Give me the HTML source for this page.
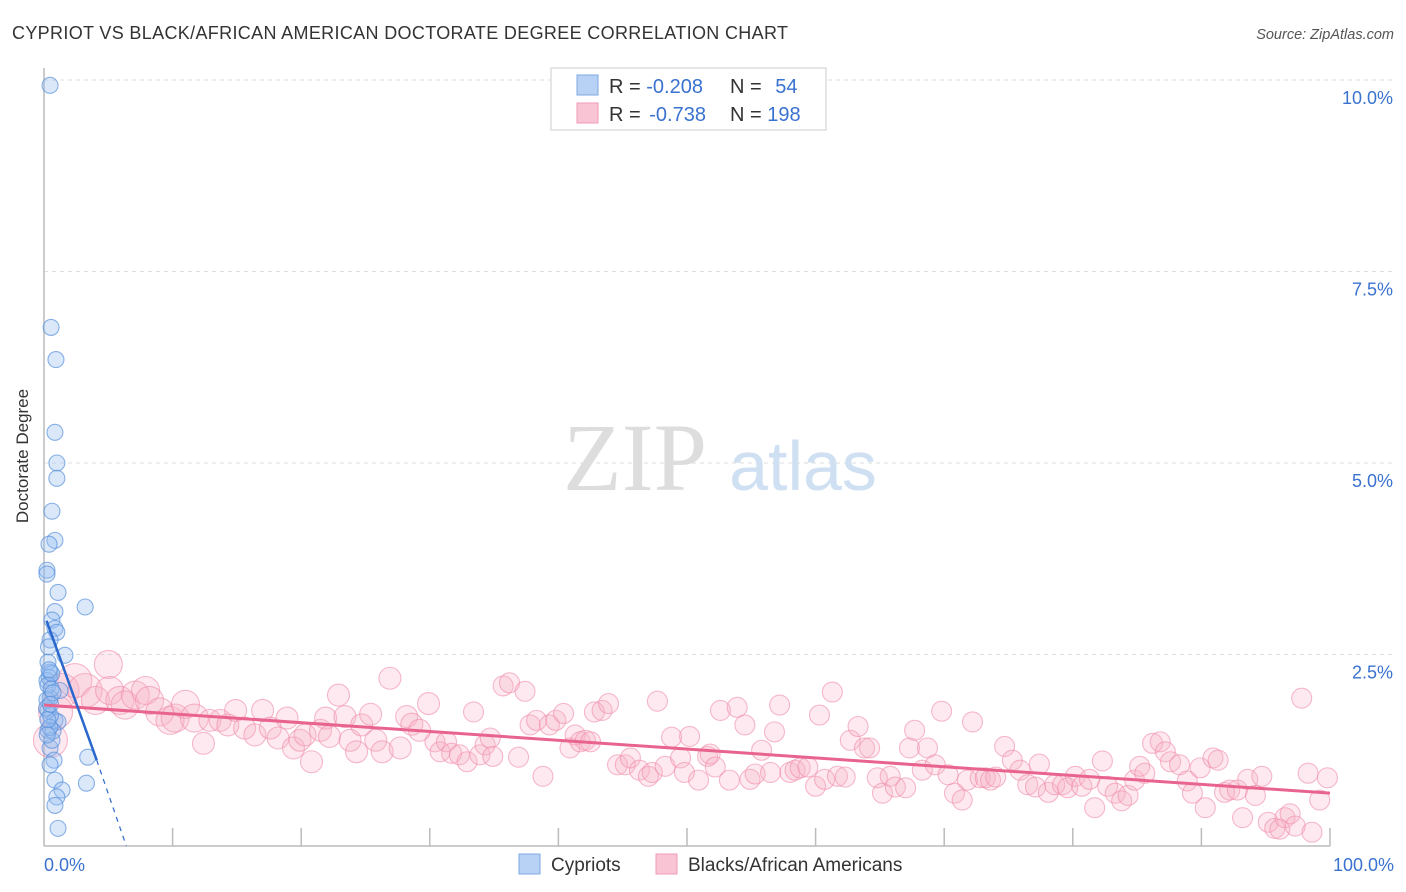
<!DOCTYPE html>
<html><head><meta charset="utf-8"><style>
body{margin:0;background:#fff;font-family:"Liberation Sans",sans-serif;}
svg{display:block}
</style></head><body>
<svg id="chart" width="1406" height="892" viewBox="0 0 1406 892" xmlns="http://www.w3.org/2000/svg">
<text x="12" y="39" font-size="18" fill="#333" textLength="776" lengthAdjust="spacing">CYPRIOT VS BLACK/AFRICAN AMERICAN DOCTORATE DEGREE CORRELATION CHART</text>
<text x="1394" y="39" font-size="14.5" fill="#555" font-style="italic" text-anchor="end">Source: ZipAtlas.com</text>
<g id="grid"></g>
<text x="635" y="490" font-size="96" fill="#ddd" font-family="Liberation Serif,serif" text-anchor="middle">ZIP</text>
<text x="803" y="490" font-size="70" fill="#cfe0f3" text-anchor="middle">atlas</text>
<g id="axes"></g>
<g id="pink"></g>
<g id="blue"></g>
<g id="lines"></g>
<text x="28" y="456" font-size="17" fill="#333" text-anchor="middle" transform="rotate(-90 28 456)">Doctorate Degree</text>
<g>
<rect x="551" y="68" width="275" height="62" fill="#fff" stroke="#ddd" stroke-width="1.5"/>
<rect x="577" y="75" width="21" height="20" fill="#b7d2f5" stroke="#7ea8e0"/>
<rect x="577" y="103" width="21" height="20" fill="#f9c5d4" stroke="#f09ab4"/>
<text x="609" y="93" font-size="20" fill="#333">R = <tspan fill="#3a72d0">-0.208</tspan></text>
<text x="730" y="93" font-size="20" fill="#333">N = <tspan fill="#3a72d0" dx="8">54</tspan></text>
<text x="609" y="121" font-size="20" fill="#333">R = <tspan fill="#3a72d0" dx="3">-0.738</tspan></text>
<text x="730" y="121" font-size="20" fill="#333">N = <tspan fill="#3a72d0">198</tspan></text>
</g>
<g>
<rect x="519" y="854" width="21" height="20" fill="#b7d2f5" stroke="#7ea8e0"/>
<text x="551" y="871" font-size="19" fill="#333">Cypriots</text>
<rect x="656" y="854" width="21" height="20" fill="#f9c5d4" stroke="#f09ab4"/>
<text x="688" y="871" font-size="19" fill="#333">Blacks/African Americans</text>
</g>
</svg>
<script>
const yTicks=[2.5,5.0,7.5,10.0];
const yTickLabels=["2.5%","5.0%","7.5%","10.0%"];
const xTickLabels=["0.0%","100.0%"];
const blueX=[0.47,0.55,0.93,0.85,1.0,1.0,0.62,0.85,0.39,0.23,0.23,1.09,3.2,0.85,0.62,0.85,1.0,0.47,1.63,0.31,0.47,0.23,1.24,0.47,0.31,0.85,0.31,1.09,0.47,0.78,3.4,3.3,0.85,1.4,1.0,0.85,1.09,0.47,0.62,0.23,0.4,0.3,0.5,0.7,0.2,0.35,0.6,0.45,0.25,0.55,0.3,0.7,0.4,0.5];
const blueY=[9.93,6.77,6.35,5.4,5.0,4.8,4.37,3.99,3.94,3.6,3.55,3.31,3.12,3.06,2.95,2.84,2.79,2.69,2.49,2.4,2.27,2.16,2.03,1.93,1.77,1.64,1.51,1.62,1.28,1.12,1.16,0.82,0.86,0.73,0.64,0.53,0.23,1.06,1.38,1.91,2.2,2.1,1.7,1.5,1.8,2.6,2.25,1.55,1.45,2.05,1.65,2.0,2.3,1.85];
const pinkX=[0.5,0.9,1.4,2.4,3.2,4.0,5.0,5.1,5.9,6.3,7.1,7.9,8.2,9.0,9.8,10.2,11.0,11.7,12.4,12.9,13.7,14.3,14.9,15.6,16.4,17.0,17.6,18.2,18.9,19.4,19.9,20.3,20.8,21.5,21.9,22.2,22.9,23.4,23.8,24.3,24.7,25.4,25.8,26.3,26.9,27.7,28.2,28.6,29.2,29.9,30.4,30.8,31.3,31.7,32.3,32.9,33.4,33.9,34.3,34.7,34.9,35.7,36.2,36.9,37.4,37.8,38.3,38.8,39.3,39.8,40.4,40.9,41.3,41.7,42.1,42.5,42.8,43.4,43.9,44.6,45.2,45.6,46.3,47.0,47.3,47.7,48.3,48.8,49.5,49.8,50.2,50.9,51.6,51.8,52.2,52.6,53.3,53.9,54.5,54.9,55.3,55.8,56.5,56.8,57.2,58.0,58.4,58.8,59.4,60.0,60.3,60.7,61.3,61.7,62.3,62.7,63.3,63.8,64.2,64.8,65.2,65.8,66.2,67.0,67.3,67.7,68.3,68.7,69.3,69.8,70.3,70.8,71.4,71.8,72.2,72.8,73.2,73.6,74.0,74.7,75.3,75.9,76.5,77.1,77.4,78.1,78.6,79.2,79.6,80.2,80.7,81.3,81.7,82.3,82.7,83.3,83.8,84.3,84.8,85.2,85.6,86.2,86.8,87.2,87.6,88.3,88.9,89.3,89.9,90.3,90.9,91.3,91.8,92.2,92.8,93.2,93.6,94.2,94.7,95.2,95.7,96.1,96.5,96.9,97.3,97.8,98.3,98.6,99.2,99.8];
const pinkY=[1.38,1.75,2.03,2.16,2.03,1.90,2.37,2.03,1.90,1.84,1.97,2.03,1.90,1.75,1.64,1.67,1.85,1.67,1.34,1.64,1.64,1.58,1.77,1.54,1.45,1.77,1.54,1.41,1.67,1.28,1.38,1.45,1.10,1.51,1.67,1.43,1.97,1.69,1.38,1.23,1.58,1.72,1.38,1.23,2.19,1.28,1.69,1.59,1.51,1.86,1.36,1.23,1.36,1.21,1.19,1.10,1.75,1.19,1.32,1.41,1.17,2.09,2.13,1.16,2.02,1.58,1.64,0.91,1.58,1.64,1.73,1.28,1.45,1.36,1.38,1.36,1.75,1.77,1.86,1.06,1.06,1.15,0.99,0.91,0.96,1.89,1.04,1.42,1.15,0.96,1.43,0.86,1.17,1.20,1.03,1.77,0.86,1.81,1.58,0.87,0.94,1.25,0.96,1.49,1.84,0.96,0.99,1.02,1.03,0.78,1.71,0.87,2.01,0.91,0.90,1.38,1.56,1.28,1.28,0.89,0.69,0.91,0.77,0.76,1.28,1.51,0.99,1.28,1.06,1.76,0.93,0.69,0.60,0.86,1.62,0.89,0.89,0.86,0.90,1.30,1.12,0.99,0.80,0.77,1.07,0.70,0.80,0.80,0.76,0.91,0.78,0.87,0.50,1.11,0.78,0.69,0.59,0.66,0.86,1.04,0.95,1.34,1.36,1.23,1.10,1.06,0.85,0.69,1.02,0.50,1.15,1.12,0.70,0.73,0.73,0.37,0.87,0.66,0.91,0.31,0.23,0.22,0.37,0.42,0.26,1.93,0.95,0.18,0.60,0.89];
const pinkTrend=[[0,1.84],[100,0.69]];
const blueTrend=[[0.2,2.94],[4.1,1.12]];
const blueDash=[[4.1,1.12],[6.4,0]];

const L=44,R=1330,T=80,B=846;
const sx=v=>L+(R-L)*v/100, sy=v=>B-(B-T)*v/10;
const NS="http://www.w3.org/2000/svg";
function mk(tag,attrs,parent){const e=document.createElementNS(NS,tag);for(const k in attrs)e.setAttribute(k,attrs[k]);parent.appendChild(e);return e;}
const grid=document.getElementById('grid'),axes=document.getElementById('axes');
yTicks.forEach((t,i)=>{
 const g=mk('line',{x1:L,x2:1394,y1:sy(t),y2:sy(t),stroke:'#ddd','stroke-dasharray':'4,4'},grid);
 
 
 const tx=mk('text',{x:1393,y:sy(t)+24,'font-size':18,fill:'#3a72d0','text-anchor':'end'},axes);
 tx.textContent=yTickLabels[i];
 
 
});
const ax=mk('line',{x1:L,x2:L,y1:68,y2:B,stroke:'#bbb','stroke-width':1.5},axes);


const bx=mk('line',{x1:L,x2:R,y1:B,y2:B,stroke:'#bbb','stroke-width':1.5},axes);


for(let i=1;i<=10;i++){
 const tk=mk('line',{x1:sx(i*10),x2:sx(i*10),y1:B,y2:828,stroke:'#bbb','stroke-width':1.5},axes);
 
 
}
[[0,'start',44],[100,'end',1394]].forEach((p,i)=>{
 const t=mk('text',{x:p[2],y:871,'font-size':18,fill:'#3a72d0','text-anchor':p[1]},axes);
 t.textContent=xTickLabels[i];
 
 
});
const pg=document.getElementById('pink');
pinkX.forEach((x,i)=>{
 const r=x<4?17:(x<12?14:(x<30?11:10));
 const c=mk('circle',{cx:sx(x),cy:sy(pinkY[i]),r:r,fill:'rgba(248,175,198,0.28)',stroke:'rgba(240,140,170,0.6)','stroke-width':1.1},pg);
 
 
});
const bg=document.getElementById('blue');
blueX.forEach((x,i)=>{
 const c=mk('circle',{cx:sx(x),cy:sy(blueY[i]),r:8,fill:'rgba(150,190,240,0.35)',stroke:'rgba(90,145,220,0.7)','stroke-width':1.1},bg);
 
 
});
const lg=document.getElementById('lines');
const pl=mk('line',{x1:sx(pinkTrend[0][0]),y1:sy(pinkTrend[0][1]),x2:sx(pinkTrend[1][0]),y2:sy(pinkTrend[1][1]),stroke:'#e8648f','stroke-width':3},lg);


const bl=mk('line',{x1:sx(blueTrend[0][0]),y1:sy(blueTrend[0][1]),x2:sx(blueTrend[1][0]),y2:sy(blueTrend[1][1]),stroke:'#2a67cc','stroke-width':2.5},lg);


const bd=mk('line',{x1:sx(blueDash[0][0]),y1:sy(blueDash[0][1]),x2:sx(blueDash[1][0]),y2:sy(blueDash[1][1]),stroke:'#2a67cc','stroke-width':1.2,'stroke-dasharray':'5,5'},lg);


</script>
</body></html>
